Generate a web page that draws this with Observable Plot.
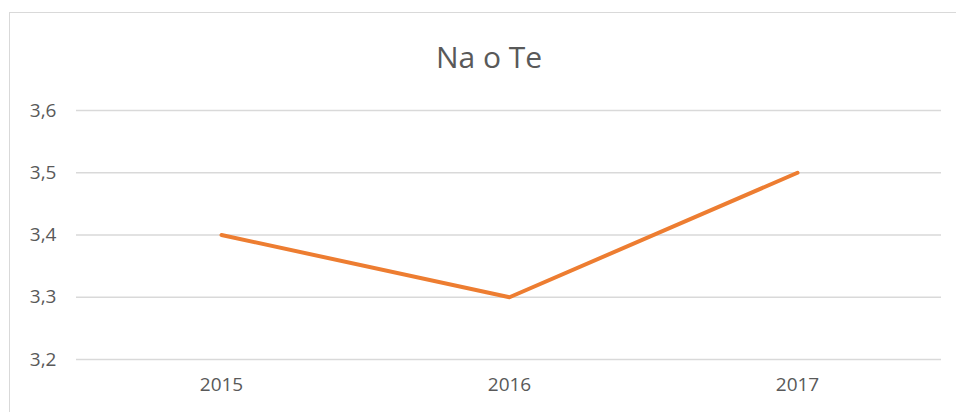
<!DOCTYPE html>
<html>
<head>
<meta charset="utf-8">
<script src="https://cdn.jsdelivr.net/npm/d3@7"></script>
<script src="https://cdn.jsdelivr.net/npm/@observablehq/plot@0.6"></script>
<style>
  html, body { margin: 0; padding: 0; background: #fff; overflow: hidden; }
  #frame { position: absolute; left: 9px; top: 12px; width: 980px; height: 440px; border: 1.5px solid #d9d9d9; box-sizing: border-box; }
  #chart { position: absolute; left: 0; top: 0; }
</style>
</head>
<body>
<div id="frame"></div>
<div id="chart"></div>
<script>
const years = ["2015", "2016", "2017"];
const values = [3.4, 3.3, 3.5];
const yTicks = [3.2, 3.3, 3.4, 3.5, 3.6];
const title = "Na o Te";

const data = years.map((y, i) => ({year: y, value: values[i]}));
const font = "'Open Sans', 'Noto Sans', sans-serif";

const chart = Plot.plot({
  width: 956,
  height: 412,
  marginTop: 110,
  marginBottom: 53,
  marginLeft: 76,
  marginRight: 15,
  style: {fontFamily: font, background: "transparent", overflow: "visible"},
  x: {type: "point", domain: years, padding: 0.5, label: null},
  y: {domain: [3.2, 3.6], label: null},
  marks: [
    Plot.ruleY(yTicks, {stroke: "#d9d9d9", strokeWidth: 1.3}),
    Plot.axisY({ticks: yTicks, tickSize: 0, tickPadding: 20, tickFormat: d => d.toFixed(1).replace(".", ","), fontSize: 19, fill: "#595959", label: null}),
    Plot.axisX({tickSize: 0, tickPadding: 18, fontSize: 19, fill: "#595959", label: null}),
    Plot.line(data, {x: "year", y: "value", stroke: "#ED7D31", strokeWidth: 4, strokeLinecap: "round", strokeLinejoin: "round"}),
    Plot.text([title], {frameAnchor: "top", dy: -52, dx: -20, lineAnchor: "middle", fontSize: 30, fill: "#595959", fontFamily: font})
  ]
});
document.getElementById("chart").appendChild(chart);
</script>
</body>
</html>
